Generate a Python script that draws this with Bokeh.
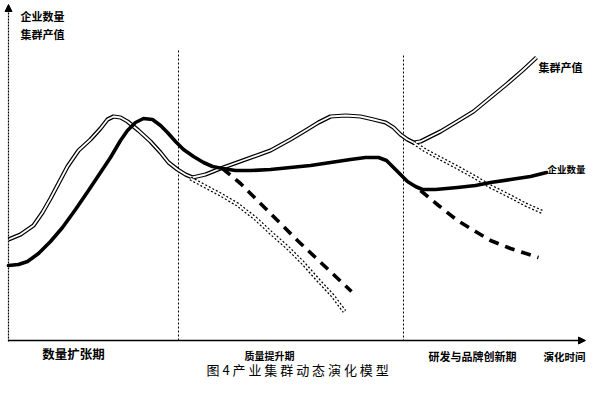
from bokeh.plotting import figure
from bokeh.models import Range1d, Arrow, NormalHead, Label
from bokeh.embed import file_html
from bokeh.resources import INLINE

# --- data (in picture units: x = time, y grows downward) ---
output_x = [8, 20, 33, 42, 50, 58, 67, 78, 90, 100, 107, 113, 120, 127, 138, 150, 160, 168, 177, 185, 192,
            205, 220, 245, 270, 290, 305, 318, 330, 345, 360, 373, 385, 393, 400, 407, 413, 420, 430, 440,
            455, 473, 490, 507, 522, 536]
output_y = [239, 234, 225, 212, 198, 183, 166, 150, 139, 128, 119, 116, 117, 121, 130, 141, 152, 162, 169, 174, 177,
            174, 168, 159, 150, 139, 130, 122, 116, 115, 116, 119, 122, 127, 134, 139, 142, 141, 136, 131,
            122, 111, 97, 83, 70, 57]

output_dec1_x = [190, 205, 220, 237, 255, 270, 287, 303, 318, 332, 344]
output_dec1_y = [178, 186, 194, 204, 218, 232, 247, 263, 280, 295, 311]
output_dec2_x = [413, 425, 440, 457, 475, 490, 510, 525, 543]
output_dec2_y = [142, 150, 158, 167, 177, 186, 196, 204, 212]

firms_x = [8, 18, 27, 38, 50, 62, 75, 88, 100, 110, 120, 127, 135, 143, 152, 160, 167, 175, 183, 193, 203, 212,
           222, 235, 250, 270, 290, 310, 330, 350, 365, 378, 386, 393, 400, 407, 415, 422, 435, 457, 475, 490,
           510, 530, 546]
firms_y = [265, 264, 261, 253, 241, 227, 209, 190, 172, 157, 140, 130, 122, 118, 119, 125, 132, 141, 149, 156, 162, 166,
           168, 170, 170, 169, 167, 165, 162, 159, 157, 157, 160, 167, 174, 181, 186, 189, 189, 187, 185, 182,
           179, 176, 172]

firms_dec1_x = [222, 240, 257, 277, 297, 315, 333, 351]
firms_dec1_y = [168, 183, 200, 220, 240, 257, 274, 291]
firms_dec2_x = [420, 438, 457, 475, 490, 510, 538]
firms_dec2_y = [190, 205, 220, 231, 240, 248, 257]

phase_bounds = [178, 403]
phase_tops = [50, 55]
phase_names = ["数量扩张期", "质量提升期", "研发与品牌创新期"]
y_title = ["企业数量", "集群产值"]
x_title = "演化时间"
caption = "图 4   产 业 集 群 动 态 演 化 模 型"

FONT = "Noto Sans CJK SC"

p = figure(width=586, height=378, x_range=Range1d(0, 586), y_range=Range1d(378, 0),
           output_backend="svg", toolbar_location=None, min_border=0,
           min_border_left=0, min_border_right=0, min_border_top=0, min_border_bottom=0)
p.axis.visible = False
p.grid.visible = False
p.outline_line_color = None
p.background_fill_color = "white"

# axes with arrows
p.add_layout(Arrow(end=NormalHead(size=7, fill_color="black", line_color="black"),
                   x_start=8, y_start=341, x_end=8, y_end=4,
                   line_width=1.2, line_dash="2 1", line_color="black"))
p.add_layout(Arrow(end=NormalHead(size=7, fill_color="black", line_color="black"),
                   x_start=8, y_start=340, x_end=585, y_end=340,
                   line_width=1.3, line_color="black"))

# phase boundaries
for bx, top in zip(phase_bounds, phase_tops):
    p.line([bx, bx], [top, 340], line_color="black", line_width=1, line_dash="2 2")

# cluster output value: double line
p.line(output_x, output_y, line_color="black", line_width=4.2, line_join="round")
p.line(output_x, output_y, line_color="white", line_width=1.8, line_join="round")

# declining branches of output: double dotted
for xs, ys in [(output_dec1_x, output_dec1_y), (output_dec2_x, output_dec2_y)]:
    p.line(xs, ys, line_color="black", line_width=4.2, line_dash="2 2")
    p.line(xs, ys, line_color="white", line_width=1.8)

# number of firms: thick line
p.line(firms_x, firms_y, line_color="black", line_width=3.6, line_join="round", line_cap="round")

# declining branches of firms: thick dashed
for xs, ys in [(firms_dec1_x, firms_dec1_y), (firms_dec2_x, firms_dec2_y)]:
    p.line(xs, ys, line_color="black", line_width=3.6, line_dash="10 7")

def lab(x, y, t, size, bold=True, align="left"):
    p.add_layout(Label(x=x, y=y, text=t, text_font=FONT, text_font_size=f"{size}px",
                       text_font_style="bold" if bold else "normal", text_color="black",
                       text_align=align, text_baseline="middle"))

lab(20, 15, y_title[0], 11)
lab(20, 33, y_title[1], 11)
lab(538, 66, y_title[1], 11)
lab(547, 168, y_title[0], 9.5)
lab(73, 353, phase_names[0], 12.5, align="center")
lab(269, 355, phase_names[1], 10, align="center")
lab(472, 355, phase_names[2], 11, align="center")
lab(564, 356, x_title, 10.5, align="center")
lab(300, 369, caption, 13, bold=False, align="center")

open("out.html", "w").write(file_html(p, INLINE))
